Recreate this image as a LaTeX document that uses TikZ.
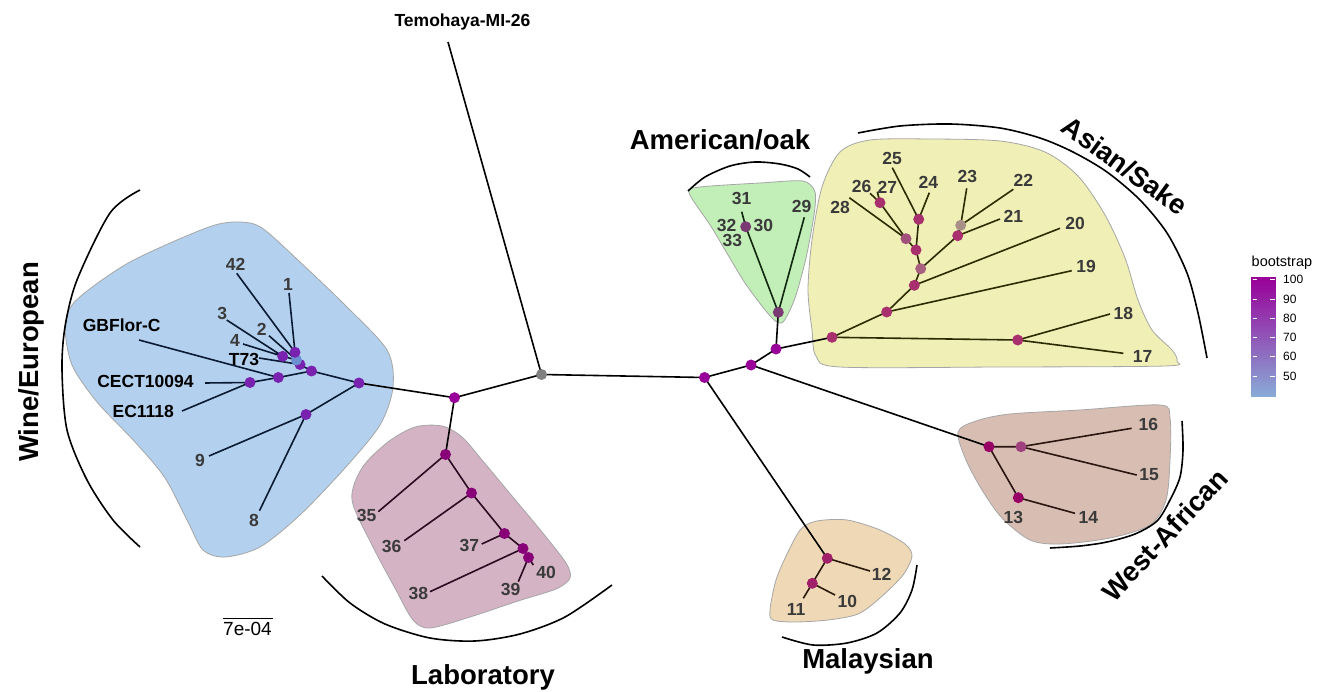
\documentclass[tikz,border=0pt]{standalone}
\usepackage{fontspec}
\setmainfont{Liberation Sans}
\pgfdeclarelayer{hulls}
\pgfdeclarelayer{edges}
\pgfsetlayers{hulls,edges,main}
\definecolor{cP}{HTML}{990099}
\definecolor{cGray}{HTML}{808080}
\definecolor{cWine}{HTML}{7A22B0}
\definecolor{cWlb}{HTML}{6B8FD0}
\definecolor{cLab}{HTML}{880077}
\definecolor{cAs}{HTML}{A8306E}
\definecolor{cAsL}{HTML}{A8607F}
\definecolor{cAsM}{HTML}{A0507A}
\definecolor{cAsG}{HTML}{A89088}
\definecolor{cAm}{HTML}{7A3A74}
\definecolor{cWA}{HTML}{990066}
\definecolor{cWA2}{HTML}{A0407E}
\definecolor{cMal}{HTML}{A0206A}
\definecolor{eWine}{HTML}{0A1A33}
\definecolor{eLab}{HTML}{2A0A20}
\definecolor{eAs}{HTML}{2B2B00}
\definecolor{eAm}{HTML}{0F280F}
\definecolor{eWA}{HTML}{2A1510}
\definecolor{eMal}{HTML}{2A1A0A}
\definecolor{hWine}{HTML}{B3D1EE}
\definecolor{hLab}{HTML}{D4B3C4}
\definecolor{hAm}{HTML}{C2EEB8}
\definecolor{hAs}{HTML}{F0EFB5}
\definecolor{hWA}{HTML}{D8BEB2}
\definecolor{hMal}{HTML}{EFD8B5}
\definecolor{numgray}{HTML}{3A3A3A}
\definecolor{legTop}{HTML}{990099}
\definecolor{legBot}{HTML}{88AAD6}
\begin{document}
\begin{tikzpicture}[x=1pt,y=-1pt,
  tdot/.style={circle, fill=#1, minimum size=11pt, inner sep=0pt, outer sep=0pt},
  tedge/.style={line width=1.6pt, draw=#1},
  hull/.style={draw=black!35, line width=0.8pt, fill=#1},
  grouparc/.style={line width=1.6pt, draw=black},
  numlab/.style={font=\fontsize{17.5}{20}\selectfont\bfseries, text=numgray, inner sep=0pt},
  namelab/.style={font=\fontsize{17.5}{20}\selectfont\bfseries, text=black, inner sep=0pt},
  grouplab/.style={font=\fontsize{27.5}{30}\selectfont\bfseries, text=black, inner sep=0pt},
  ticklab/.style={font=\fontsize{12}{14}\selectfont, text=black, inner sep=0pt, anchor=west}]
\useasboundingbox (0,0) rectangle (1330,692);

% ---------- hulls ----------
\begin{pgfonlayer}{hulls}
\fill[white] (0,0) rectangle (1330,692);
\draw[hull=hWine] plot[smooth cycle, tension=0.5] coordinates {
 (65,327) (72,305) (95,285) (130,262) (177,240) (215,225) (240,222) (262,228)
 (300,262) (345,305) (387,350) (393,387) (380,425) (345,468) (300,515)
 (260,547) (225,557) (203,550) (188,522) (165,478) (135,442) (97,402) (72,365)};
\draw[hull=hLab] plot[smooth cycle, tension=0.5] coordinates {
 (352,500) (362,468) (388,442) (415,427) (442,426) (462,437) (482,460)
 (512,496) (542,532) (566,563) (570,578) (556,589) (518,601) (470,617)
 (430,628) (413,620) (396,590) (372,545)};
\draw[hull=hAm] plot[smooth cycle, tension=0.45] coordinates {
 (689,193) (700,187) (760,183) (803,181) (815,192) (814,215) (806,258)
 (795,298) (783,322) (772,318) (745,283) (712,228)};
\draw[hull=hAs] plot[smooth cycle, tension=0.5] coordinates {
 (812,330) (808,290) (812,240) (822,187) (840,152) (870,140) (930,139)
 (1000,141) (1045,152) (1078,176) (1105,215) (1125,258) (1138,300)
 (1152,330) (1172,350) (1177,361) (1165,366) (1000,367) (840,367) (816,356)};
\draw[hull=hWA] plot[smooth cycle, tension=0.5] coordinates {
 (958,432) (976,421) (1010,414) (1080,410) (1160,405) (1170,418)
 (1170,460) (1166,500) (1150,525) (1110,538) (1060,544) (1030,540)
 (1002,518) (982,490) (966,460)};
\draw[hull=hMal] plot[smooth cycle, tension=0.5] coordinates {
 (770,610) (776,580) (788,552) (801,529) (817,521) (847,520) (880,530)
 (905,544) (912,556) (903,575) (880,598) (858,614) (828,620) (795,622) (773,620)};
\end{pgfonlayer}

% ---------- tree nodes ----------
% central
\node[tdot=cGray] (G) at (541.5,374.5) {};
\node[tdot=cP] (L1) at (454.5,397.7) {};
\node[tdot=cP] (R1) at (704.5,377.5) {};
\node[tdot=cP] (R2) at (751,365) {};
\node[tdot=cP] (R3) at (776,349) {};
\coordinate (lTem) at (448,42);
% wine
\node[tdot=cWine] (W1) at (359,383) {};
\node[tdot=cWine] (W2) at (306,414.5) {};
\node[tdot=cWine] (W3) at (311.5,371) {};
\node[tdot=cWine] (W4) at (278.3,377.5) {};
\node[tdot=cWine] (W5) at (250,382.5) {};
\node[tdot=cWine] (W6) at (300,364.5) {};
\node[tdot=cWlb] (W7) at (296.5,360) {};
\node[tdot=cWine] (Wa) at (282.7,356.3) {};
\node[tdot=cWine] (Wb) at (295,352.3) {};
\coordinate (l42) at (236.7,273.3);
\coordinate (l1) at (289,293);
\coordinate (l3) at (226.7,320);
\coordinate (l2) at (269,335.7);
\coordinate (l4) at (243,344);
\coordinate (lT73) at (259,358);
\coordinate (lGB) at (139,340);
\coordinate (lCE) at (205,383);
\coordinate (lEC) at (182,411);
\coordinate (l9) at (209,456);
\coordinate (l8) at (259.5,510.7);
% laboratory
\node[tdot=cLab] (La) at (445.5,454.5) {};
\node[tdot=cLab] (Lb) at (471.5,493) {};
\node[tdot=cLab] (Lc) at (504.5,533.5) {};
\node[tdot=cLab] (Ld) at (523,548.5) {};
\node[tdot=cLab] (Le) at (528.5,557.5) {};
\coordinate (l35) at (378.3,511.7);
\coordinate (l36) at (404.3,540.7);
\coordinate (l37) at (481.7,544);
\coordinate (l38) at (430,591.7);
\coordinate (l39) at (518.3,581.7);
\coordinate (l40) at (533.3,565);
% american
\node[tdot=cAm] (Ao) at (778.3,312.3) {};
\node[tdot=cAm] (Ab) at (745.7,226.7) {};
\coordinate (l31) at (741.7,211.7);
\coordinate (l29) at (804.3,217.3);
% asian
\node[tdot=cAs] (As1) at (832,337.3) {};
\node[tdot=cAs] (As2) at (1017.7,340) {};
\node[tdot=cAs] (As3) at (886.7,312) {};
\node[tdot=cAs] (As4) at (914.3,285.3) {};
\node[tdot=cAsL] (As5) at (920.7,268.7) {};
\node[tdot=cAs] (As6) at (957.7,235.7) {};
\node[tdot=cAs] (As7) at (916,250) {};
\node[tdot=cAsG] (As8) at (960.7,225.3) {};
\node[tdot=cAs] (As9) at (918.7,219.3) {};
\node[tdot=cAsM] (As10) at (906,238.7) {};
\node[tdot=cAs] (As11) at (880,202.7) {};
\coordinate (l18) at (1110,314);
\coordinate (l17) at (1123.3,353.3);
\coordinate (l19) at (1071.7,270.7);
\coordinate (l20) at (1060,228.3);
\coordinate (l21) at (1000,219);
\coordinate (l23) at (966.7,188.3);
\coordinate (l22) at (1013.3,189.3);
\coordinate (l25) at (892.3,167.7);
\coordinate (l24) at (929.3,192.7);
\coordinate (l28) at (849.3,197.7);
\coordinate (l26) at (870,193.3);
\coordinate (l27) at (877.3,191.7);
% west african
\node[tdot=cWA] (WA1) at (989,446.7) {};
\node[tdot=cWA2] (WA2) at (1021,446.7) {};
\node[tdot=cWA] (WA3) at (1018.3,497.7) {};
\coordinate (l16) at (1131.7,428.3);
\coordinate (l15) at (1136.7,475);
\coordinate (l14) at (1075,513.3);
% malaysian
\node[tdot=cMal] (M1) at (827.3,558.3) {};
\node[tdot=cMal] (M2) at (812.3,583.3) {};
\coordinate (l12) at (870,571);
\coordinate (l11) at (803.3,598.3);
\coordinate (l10) at (835,595);

% ---------- edges ----------
\begin{pgfonlayer}{edges}
\draw[tedge=black] (L1.center) -- (G.center) (G.center) -- (lTem)
  (G.center) -- (R1.center) (R1.center) -- (R2.center) (R2.center) -- (R3.center)
  (L1.center) -- (W1.center) (L1.center) -- (La.center) (R1.center) -- (M1.center)
  (R2.center) -- (WA1.center) (R3.center) -- (As1.center) (R3.center) -- (Ao.center);
\draw[tedge=eWine] (W1.center) -- (W3.center) (W3.center) -- (W4.center)
  (W4.center) -- (lGB) (W4.center) -- (W5.center) (W5.center) -- (lCE) (W5.center) -- (lEC)
  (W3.center) -- (W6.center) (W6.center) -- (W7.center) (W7.center) -- (Wa.center)
  (W7.center) -- (Wb.center) (Wa.center) -- (l3) (Wa.center) -- (l4)
  (Wb.center) -- (l42) (Wb.center) -- (l1) (W7.center) -- (l2) (W6.center) -- (lT73)
  (W1.center) -- (W2.center) (W2.center) -- (l9) (W2.center) -- (l8);
\draw[tedge=eLab] (La.center) -- (l35) (La.center) -- (Lb.center) (Lb.center) -- (l36)
  (Lb.center) -- (Lc.center) (Lc.center) -- (l37) (Lc.center) -- (Ld.center)
  (Ld.center) -- (l38) (Ld.center) -- (Le.center) (Le.center) -- (l39) (Le.center) -- (l40);
\draw[tedge=eAm] (Ao.center) -- (Ab.center) (Ab.center) -- (l31) (Ao.center) -- (l29);
\draw[tedge=eAs] (As1.center) -- (As2.center) (As2.center) -- (l18) (As2.center) -- (l17)
  (As1.center) -- (As3.center) (As3.center) -- (l19) (As3.center) -- (As4.center)
  (As4.center) -- (l20) (As4.center) -- (As5.center) (As5.center) -- (As6.center)
  (As6.center) -- (l21) (As6.center) -- (As8.center) (As8.center) -- (l23) (As8.center) -- (l22)
  (As5.center) -- (As7.center) (As7.center) -- (As9.center) (As9.center) -- (l25)
  (As9.center) -- (l24) (As7.center) -- (As10.center) (As10.center) -- (l28)
  (As10.center) -- (As11.center) (As11.center) -- (l26) (As11.center) -- (l27);
\draw[tedge=eWA] (WA1.center) -- (WA2.center) (WA1.center) -- (WA3.center)
  (WA2.center) -- (l16) (WA2.center) -- (l15) (WA3.center) -- (l14);
\draw[tedge=eMal] (M1.center) -- (M2.center) (M1.center) -- (l12)
  (M2.center) -- (l11) (M2.center) -- (l10);
\end{pgfonlayer}

% ---------- leaf labels ----------
\node[namelab, anchor=base] (tTem) at (462.5,26.5) {Temohaya-MI-26};
\node[numlab] (t42) at (235.5,264) {42};
\node[numlab] (t1) at (288,284) {1};
\node[numlab] (t3) at (222.3,313.3) {3};
\node[numlab] (t2) at (261.7,329.3) {2};
\node[numlab] (t4) at (235,340.7) {4};
\node[namelab] (tT73) at (244,359) {T73};
\node[namelab] (tGB) at (121.7,325) {GBFlor-C};
\node[namelab] (tCE) at (145.5,381) {CECT10094};
\node[namelab] (tEC) at (143.3,411) {EC1118};
\node[numlab] (t9) at (200,460.7) {9};
\node[numlab] (t8) at (254,520.7) {8};
\node[numlab] (t35) at (366.7,515) {35};
\node[numlab] (t36) at (391.7,546) {36};
\node[numlab] (t37) at (469.3,545.7) {37};
\node[numlab] (t38) at (418.3,593.3) {38};
\node[numlab] (t39) at (510.7,589.3) {39};
\node[numlab] (t40) at (546,572.7) {40};
\node[numlab] (t31) at (741.7,198.3) {31};
\node[numlab] (t32) at (726.7,225) {32};
\node[numlab] (t30) at (763.3,225) {30};
\node[numlab] (t33) at (732.3,240) {33};
\node[numlab] (t29) at (801.7,206) {29};
\node[numlab] (t18) at (1123.3,313.3) {18};
\node[numlab] (t17) at (1142.7,356) {17};
\node[numlab] (t19) at (1086,266) {19};
\node[numlab] (t20) at (1075,223.3) {20};
\node[numlab] (t21) at (1013.3,216) {21};
\node[numlab] (t23) at (967.3,176) {23};
\node[numlab] (t22) at (1023.3,180) {22};
\node[numlab] (t25) at (892,158.3) {25};
\node[numlab] (t24) at (928.3,182.7) {24};
\node[numlab] (t26) at (861.7,186) {26};
\node[numlab] (t27) at (887.3,187.7) {27};
\node[numlab] (t28) at (840,207.7) {28};
\node[numlab] (t16) at (1148.3,424) {16};
\node[numlab] (t15) at (1149,475) {15};
\node[numlab] (t13) at (1013.3,517.3) {13};
\node[numlab] (t14) at (1088.3,517.3) {14};
\node[numlab] (t12) at (881.7,574) {12};
\node[numlab] (t11) at (796,609.3) {11};
\node[numlab] (t10) at (847.3,601.7) {10};

% ---------- group arcs ----------
\draw[grouparc] plot[smooth] coordinates {(140,190) (110,213) (77,280) (65,327) (62,370) (67,430) (87,480) (113,520) (140,547)};
\draw[grouparc] plot[smooth] coordinates {(322,576) (350,603) (385,624) (430,638) (475,641) (520,634) (565,617) (612,585)};
\draw[grouparc] plot[smooth] coordinates {(917,565) (912,590) (900,613) (877,633) (847,643) (813,645) (782,637)};
\draw[grouparc] plot[smooth] coordinates {(688,191) (705,177) (730,166) (755,162) (780,164) (798,169) (810,177)};
\draw[grouparc] plot[smooth] coordinates {(858,133) (900,126) (950,124) (1000,128) (1040,138) (1073,152) (1107,172) (1140,200) (1167,233) (1187,273) (1198,313) (1207,358)};
\draw[grouparc] plot[smooth] coordinates {(1182,421) (1183,450) (1180,477) (1170,500) (1157,521) (1135,534) (1107,542) (1080,546) (1050,548)};

% ---------- group labels ----------
\node[grouplab, rotate=90, anchor=base] (gWine) at (38,362) {Wine/European};
\node[grouplab, anchor=base] (gLab) at (483,684) {Laboratory};
\node[grouplab, anchor=base] (gMal) at (868,668) {Malaysian};
\node[grouplab, anchor=base] (gAm) at (720,150) {American/oak};
\node[grouplab, rotate=-36] (gAs) at (1125,166) {Asian/Sake};
\node[grouplab, rotate=47] (gWA) at (1165,535) {West-African};

% ---------- scale bar ----------
\coordinate (sb1) at (222.5,618.3);
\coordinate (sb2) at (273.3,618.3);
\draw[line width=1.2pt] (sb1) -- (sb2);
\node[font=\fontsize{19}{21}\selectfont, inner sep=0pt] (sbl) at (247.5,629.2) {7e-04};

% ---------- legend ----------
\node[font=\fontsize{14.5}{16}\selectfont, anchor=base west, inner sep=0pt] (legt) at (1251.5,266.5) {bootstrap};
\foreach \i in {0,...,59}{
  \pgfmathsetmacro{\p}{100-\i*100/59}
  \fill[legTop!\p!legBot] (1251,276.7+\i*2) rectangle (1276,276.7+\i*2+2.05);
}
\foreach \yy/\lab in {279.3/100, 299.3/90, 318.3/80, 337.3/70, 356.7/60, 376/50}{
  \draw[white, line width=0.8pt] (1252.5,\yy) -- (1257,\yy) (1270,\yy) -- (1274.5,\yy);
  \node[ticklab] at (1283,\yy) {\lab};
}
\end{tikzpicture}
\end{document}
